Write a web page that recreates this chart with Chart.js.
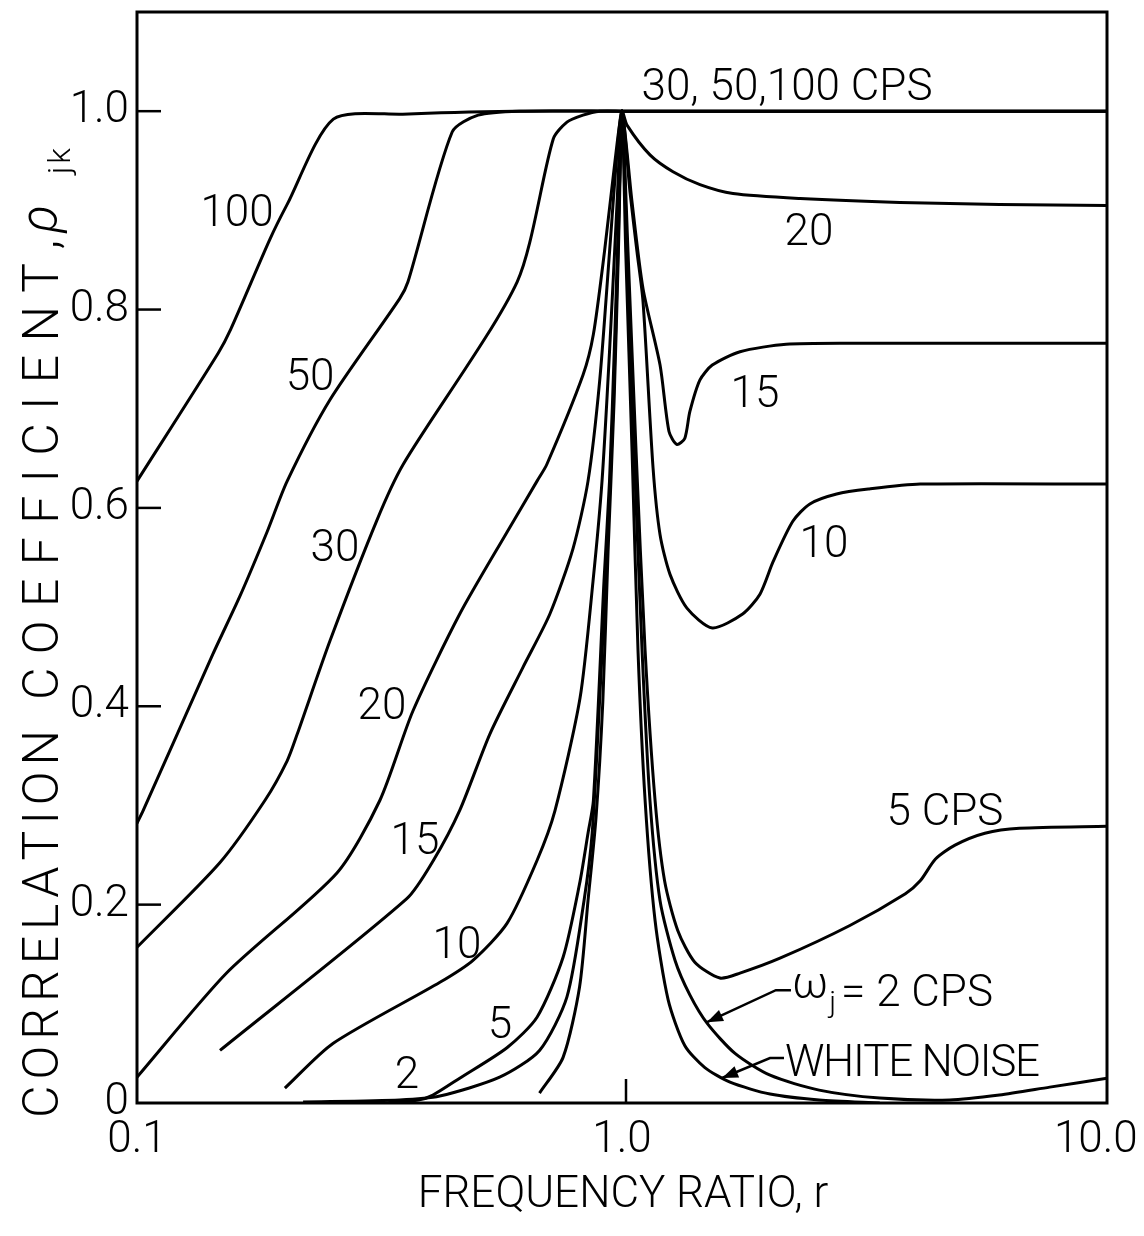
<!DOCTYPE html>
<html><head><meta charset="utf-8">
<script src="https://cdn.jsdelivr.net/npm/chart.js@4.4.1/dist/chart.umd.min.js"></script>
<style>html,body{margin:0;padding:0;background:#fff}#wrap{width:1144px;height:1236px;position:relative}</style>
</head><body><div id="wrap"><canvas id="c"></canvas></div>
<script>
// ---- axis ticks ----
const xTicks = [0.1, 1, 10];
const xTickLabels = ['0.1', '1.0', '10.0\u2002'];
const yTicks = [0, 0.2, 0.4, 0.6, 0.8, 1.0];
const yTickLabels = ['0', '0.2', '0.4', '0.6', '0.8', '1.0'];

// ---- curves: [frequency ratio r, correlation coefficient] ----
const cps100 = [[0.1,0.627],[0.147,0.756],[0.156,0.78],[0.188,0.871],[0.204,0.906],[0.254,0.992],[0.353,0.997],[0.6,1.0],[1,1],[10,1]];
const cps50 = [[0.1,0.282],[0.103,0.295],[0.1435,0.453],[0.163,0.511],[0.1855,0.576],[0.204,0.627],[0.25,0.709],[0.348,0.811],[0.362,0.828],[0.4465,0.979],[0.505,0.996],[0.615,1.0],[1,1],[10,1]];
const cps30 = [[0.1,0.157],[0.148,0.242],[0.1835,0.305],[0.204,0.345],[0.214,0.372],[0.25,0.466],[0.312,0.587],[0.354,0.644],[0.608,0.828],[0.7215,0.972],[0.77,0.989],[0.831,0.996],[0.9,1.0],[1,1],[10,1]];
const cps20 = [[0.1,0.026],[0.153,0.131],[0.2584,0.232],[0.3167,0.305],[0.3704,0.395],[0.4628,0.493],[0.58,0.576],[0.668,0.627],[0.70,0.644],[0.831,0.734],[0.873,0.775],[0.92,0.858],[0.967,0.949],[1,1],
  [1.024,0.986],[1.142,0.956],[1.274,0.939],[1.448,0.926],[1.694,0.917],[2.33,0.912],[3.74,0.908],[6.0,0.906],[10,0.905]];
const cps15 = [[0.1483,0.053],[0.36,0.206],[0.4078,0.244],[0.4628,0.295],[0.534,0.372],[0.6245,0.439],[0.71,0.493],[0.7925,0.559],[0.851,0.627],[0.899,0.727],[0.9425,0.858],[0.977,0.959],[1,1],
  [1.049,0.908],[1.105,0.821],[1.198,0.744],[1.25,0.677],[1.297,0.664],[1.347,0.67],[1.38,0.697],[1.448,0.729],[1.535,0.744],[1.751,0.7575],[2.18,0.765],[2.98,0.766],[10,0.766]];
const cps10 = [[0.2018,0.015],[0.2535,0.06],[0.4213,0.1217],[0.4929,0.1439],[0.5793,0.1811],[0.668,0.2445],[0.7275,0.2948],[0.8195,0.4085],[0.8714,0.526],[0.9095,0.627],[0.9425,0.7575],[0.977,0.908],[1,1],
  [1.039,0.918],[1.074,0.858],[1.105,0.808],[1.159,0.64],[1.198,0.573],[1.256,0.533],[1.361,0.499],[1.535,0.479],[1.773,0.493],[1.925,0.513],[2.05,0.546],[2.25,0.5865],[2.44,0.604],[2.77,0.614],[3.22,0.619],[4.12,0.624],[10,0.624]];
const cps5 = [[0.33,0.001],[0.38,0.003],[0.4075,0.008],[0.4628,0.025],[0.58,0.056],[0.668,0.0865],[0.756,0.147],[0.8175,0.221],[0.851,0.272],[0.873,0.305],[0.918,0.526],[0.9425,0.627],[0.967,0.778],[0.986,0.908],[1,1],
  [1.029,0.858],[1.069,0.657],[1.116,0.456],[1.17,0.305],[1.224,0.224],[1.303,0.174],[1.413,0.142],[1.592,0.126],[1.751,0.131],[2.117,0.146],[2.95,0.179],[3.84,0.211],[4.12,0.224],[4.43,0.246],[4.86,0.26],[5.6,0.272],[6.6,0.277],[10,0.279]];
const cps2 = [[0.22,0.001],[0.348,0.003],[0.421,0.007],[0.5594,0.026],[0.676,0.053],[0.77,0.107],[0.835,0.204],[0.868,0.272],[0.899,0.405],[0.9315,0.556],[0.96,0.707],[0.981,0.858],[1,1],
  [1.024,0.858],[1.059,0.657],[1.1,0.456],[1.142,0.305],[1.198,0.204],[1.286,0.144],[1.38,0.109],[1.50,0.08],[1.71,0.05],[2.02,0.028],[2.55,0.013],[3.4,0.005],[4.74,0.003],[6.0,0.008],[7.62,0.016],[10,0.025]];
const whiteNoise = [[0.676,0.01],[0.756,0.046],[0.8175,0.117],[0.851,0.204],[0.884,0.288],[0.913,0.405],[0.936,0.556],[0.963,0.707],[0.983,0.858],[1,1],
  [1.018,0.858],[1.049,0.657],[1.079,0.456],[1.116,0.305],[1.17,0.184],[1.245,0.104],[1.347,0.058],[1.48,0.036],[1.67,0.021],[2.02,0.009],[2.55,0.003],[3.4,0]];
const seriesNames = ['100 CPS','50 CPS','30 CPS','20 CPS','15 CPS','10 CPS','5 CPS','2 CPS','WHITE NOISE'];
const seriesData = [cps100, cps50, cps30, cps20, cps15, cps10, cps5, cps2, whiteNoise];

// ---- curve labels (anchor in data coordinates) ----
const labelTexts = ['100','50','30','20','15','10','5','2','30, 50,100 CPS','20','15','10','5 CPS'];
const labelR     = [0.1608,0.2274,0.2560,0.3200,0.3743,0.4568,0.5605,0.3602,2.189,2.43,1.880,2.609,4.634];
const labelRho   = [0.8994,0.7344,0.5624,0.4024,0.2666,0.1620,0.0815,0.0312,1.0272,0.8803,0.7173,0.5664,0.2958];

const FONT = 'Roboto, "DejaVu Sans", sans-serif';

function drawSpaced(ctx, text, x, y, width, align) {
  const ws = [...text].map(ch => ctx.measureText(ch).width);
  const w0 = ws.reduce((a,b)=>a+b,0);
  const n = ws.length;
  const gap = width == null || n < 2 ? 0 : (width - w0) / (n - 1);
  const total = w0 + gap * (n - 1);
  let cx = align === 'center' ? x - total/2 : (align === 'right' ? x - total : x);
  ctx.textAlign = 'left';
  [...text].forEach((ch, i) => { ctx.fillText(ch, cx, y); cx += ws[i] + gap; });
  return cx;
}
function arrowHead(ctx, x0, y0, x1, y1) {
  const a = Math.atan2(y1 - y0, x1 - x0), L = 16, W = 6;
  ctx.beginPath();
  ctx.moveTo(x1, y1);
  ctx.lineTo(x1 - L*Math.cos(a) + W*Math.sin(a), y1 - L*Math.sin(a) - W*Math.cos(a));
  ctx.lineTo(x1 - L*Math.cos(a) - W*Math.sin(a), y1 - L*Math.sin(a) + W*Math.cos(a));
  ctx.closePath(); ctx.fill();
}

const decor = {
  id: 'decor',
  afterDraw(chart) {
    const {ctx, chartArea: ca, scales: {x, y}} = chart;
    ctx.save();
    ctx.strokeStyle = '#000'; ctx.fillStyle = '#000'; ctx.lineWidth = 3;
    ctx.strokeRect(ca.left, ca.top, ca.right - ca.left, ca.bottom - ca.top);
    // inward tick marks
    ctx.lineWidth = 2.5;
    yTicks.forEach(v => { if (v === 0) return; const py = y.getPixelForValue(v);
      ctx.beginPath(); ctx.moveTo(ca.left, py); ctx.lineTo(ca.left + 24, py); ctx.stroke(); });
    { const px = x.getPixelForValue(1);
      ctx.beginPath(); ctx.moveTo(px + 4, ca.bottom); ctx.lineTo(px + 4, ca.bottom - 24); ctx.stroke(); }
    // curve labels
    ctx.font = '300 44px ' + FONT; ctx.textBaseline = 'alphabetic';
    labelTexts.forEach((t, i) => {
      const px = x.getPixelForValue(labelR[i]), py = y.getPixelForValue(labelRho[i]);
      ctx.textAlign = 'center'; ctx.fillText(t, px, py + 15.5);
    });
    // omega_j = 2 CPS
    {
      const px = x.getPixelForValue(2.241), py = y.getPixelForValue(0.1137);
      ctx.font = '300 44px ' + FONT; ctx.textAlign = 'left';
      ctx.fillText('\u03c9', px, py + 8);
      let cx = px + ctx.measureText('\u03c9').width + 1;
      ctx.font = '300 30px ' + FONT; ctx.fillText('j', cx, py + 22);
      cx += ctx.measureText('j').width + 5;
      ctx.font = '300 44px ' + FONT;
      ctx.fillText('= 2 CPS', cx, py + 15.5);
      const sx = x.getPixelForValue(2.076), tx = x.getPixelForValue(1.497), ty = y.getPixelForValue(0.0815);
      ctx.lineWidth = 2.5;
      ctx.beginPath(); ctx.moveTo(px - 1, py); ctx.lineTo(sx, py); ctx.lineTo(tx, ty); ctx.stroke();
      arrowHead(ctx, sx, py, tx, ty);
    }
    // WHITE NOISE
    {
      const px = x.getPixelForValue(2.168), py = y.getPixelForValue(0.0433);
      ctx.font = '300 44px ' + FONT; ctx.textAlign = 'left';
      drawSpaced(ctx, 'WHITE NOISE', px, py + 15.5, 255, 'left');
      const sx = x.getPixelForValue(2.019), tx = x.getPixelForValue(1.608), ty = y.getPixelForValue(0.0252);
      ctx.beginPath(); ctx.moveTo(px - 1, py - 2); ctx.lineTo(sx, py - 2); ctx.lineTo(tx, ty); ctx.stroke();
      arrowHead(ctx, sx, py - 2, tx, ty);
    }
    // axis titles
    ctx.font = '300 44px ' + FONT; ctx.textBaseline = 'alphabetic'; ctx.textAlign = 'center';
    ctx.fillText('FREQUENCY RATIO, r', 623, 1207);
    ctx.save();
    ctx.translate(58, 1118); ctx.rotate(-Math.PI/2);
    ctx.font = '300 50px ' + FONT;
    drawSpaced(ctx, 'CORRELATION', 0, 0, 388, 'left');
    drawSpaced(ctx, 'COEFFICIENT,', 418, 0, 460, 'left');
    ctx.font = 'italic 300 52px ' + FONT;
    ctx.fillText('\u03c1', 885, -2);
    ctx.font = '300 32px ' + FONT;
    drawSpaced(ctx, 'jk', 944, 12, 26, 'left');
    ctx.restore();
    ctx.restore();
  }
};

const datasets = seriesData.map((arr, i) => ({
  label: seriesNames[i],
  data: arr.map(([r, v]) => ({x: r, y: v})),
  borderColor: '#000', backgroundColor: '#000', borderWidth: 3,
  pointRadius: 0, tension: 0.25, fill: false
}));

new Chart(document.getElementById('c'), {
  type: 'line',
  data: {datasets},
  plugins: [decor],
  options: {
    responsive: true, maintainAspectRatio: false, animation: false, devicePixelRatio: 1,
    layout: {padding: {left: 0, top: 12, right: 37, bottom: 0}},
    plugins: {legend: {display: false}, tooltip: {enabled: false}},
    scales: {
      x: {
        type: 'logarithmic', min: 0.1, max: 10,
        afterBuildTicks: s => { s.ticks = xTicks.map(v => ({value: v})); },
        afterFit: s => { s.height = 133; s.paddingLeft = 0; s.paddingRight = 0; },
        ticks: {callback: (v, i) => xTickLabels[i], color: '#000', padding: 12, maxRotation: 0, autoSkip: false,
                font: {family: FONT, size: 44, weight: '300'}},
        grid: {display: false, drawTicks: false}, border: {display: false}
      },
      y: {
        type: 'linear', min: 0, max: 1.1,
        afterBuildTicks: s => { s.ticks = yTicks.map(v => ({value: v})); },
        afterFit: s => { s.width = 137; s.paddingTop = 0; s.paddingBottom = 0; },
        ticks: {callback: (v, i) => yTickLabels[i], color: '#000', padding: 8, autoSkip: false,
                font: {family: FONT, size: 44, weight: '300'}},
        grid: {display: false, drawTicks: false}, border: {display: false}
      }
    }
  }
});
</script></body></html>
